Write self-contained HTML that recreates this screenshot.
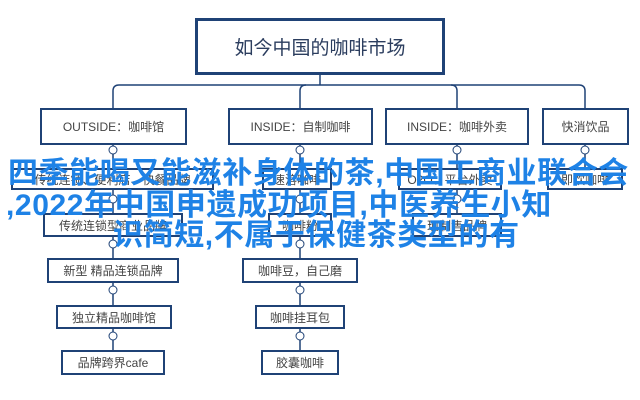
<!DOCTYPE html>
<html><head><meta charset="utf-8"><style>
body{margin:0;width:640px;height:400px;background:#fff;position:relative;overflow:hidden;font-family:"Liberation Sans","Noto Sans CJK SC",sans-serif}
.b{position:absolute;border:2px solid #1f4276;box-sizing:border-box;display:flex;align-items:center;justify-content:center;font-size:12px;color:#444;background:#fff;white-space:nowrap}
.t{position:absolute;left:8px;font-size:30px;font-weight:bold;color:#1e82e6;white-space:nowrap;line-height:1;letter-spacing:0.6px;font-family:"Liberation Sans","Noto Sans CJK SC",sans-serif}
svg{position:absolute;left:0;top:0}
</style></head><body>
<svg width="640" height="400" fill="none" stroke="#1f4276" stroke-width="1.5">
<path d="M320 75V85"/>
<path d="M113 108V91Q113 85 119 85H579Q585 85 585 91V108"/>
<path d="M300 108V91Q300 85 306 85"/><path d="M457 108V91Q457 85 451 85"/>
<path d="M113 145V168M300 145V168M457 145V168M585 145V168"/>
<path d="M113 189V213M300 189V213M457 189V213"/>
<path d="M113 237V258M300 237V258"/>
<path d="M113 283V305M300 283V305"/>
<path d="M113 329V350M300 329V350"/>
<g fill="#fff" stroke="#1f4276" stroke-width="1">
<circle cx="113" cy="150" r="4"/><circle cx="300" cy="150" r="4"/><circle cx="457" cy="150" r="4"/><circle cx="585" cy="150" r="4"/>
<circle cx="113" cy="199" r="4"/><circle cx="300" cy="199" r="4"/><circle cx="457" cy="199" r="4"/>
<circle cx="113" cy="244" r="4"/><circle cx="300" cy="244" r="4"/>
<circle cx="113" cy="290" r="4"/><circle cx="300" cy="290" r="4"/>
<circle cx="113" cy="336" r="4"/><circle cx="300" cy="336" r="4"/>
</g></svg>
<div class="b" style="left:195px;top:18px;width:250px;height:57px;font-size:19px;color:#2b3d5e;border-width:3px">如今中国的咖啡市场</div>
<div class="b" style="left:40px;top:108px;width:147px;height:37px">OUTSIDE：咖啡馆</div>
<div class="b" style="left:228px;top:108px;width:145px;height:37px">INSIDE：自制咖啡</div>
<div class="b" style="left:385px;top:108px;width:144px;height:37px">INSIDE：咖啡外卖</div>
<div class="b" style="left:542px;top:108px;width:87px;height:37px">快消饮品</div>
<div class="b" style="left:11px;top:168px;width:203px;height:22px">传统连锁、便利店、快餐品牌</div>
<div class="b" style="left:262px;top:168px;width:70px;height:22px">速溶咖啡</div>
<div class="b" style="left:398px;top:168px;width:104px;height:22px">O2O、平台外卖</div>
<div class="b" style="left:547px;top:168px;width:76px;height:22px">即饮咖啡</div>
<div class="b" style="left:43px;top:213px;width:140px;height:24px">传统连锁型商业品牌</div>
<div class="b" style="left:268px;top:213px;width:64px;height:24px">咖啡粉</div>
<div class="b" style="left:412px;top:213px;width:90px;height:24px">现制售品牌</div>
<div class="b" style="left:47px;top:258px;width:132px;height:25px">新型 精品连锁品牌</div>
<div class="b" style="left:242px;top:258px;width:116px;height:25px">咖啡豆，自己磨</div>
<div class="b" style="left:56px;top:305px;width:116px;height:24px">独立精品咖啡馆</div>
<div class="b" style="left:255px;top:305px;width:90px;height:24px">咖啡挂耳包</div>
<div class="b" style="left:61px;top:350px;width:104px;height:25px">品牌跨界cafe</div>
<div class="b" style="left:261px;top:350px;width:78px;height:25px">胶囊咖啡</div>
<div class="t" style="top:159px;left:8px">四季能喝又能滋补身体的茶,中国工商业联合会</div>
<div class="t" style="top:191px;left:6px">,2022年中国申遗成功项目,中医养生小知</div>
<div class="t" style="top:221px;left:113px">识简短,不属于保健茶类型的有</div>
</body></html>
